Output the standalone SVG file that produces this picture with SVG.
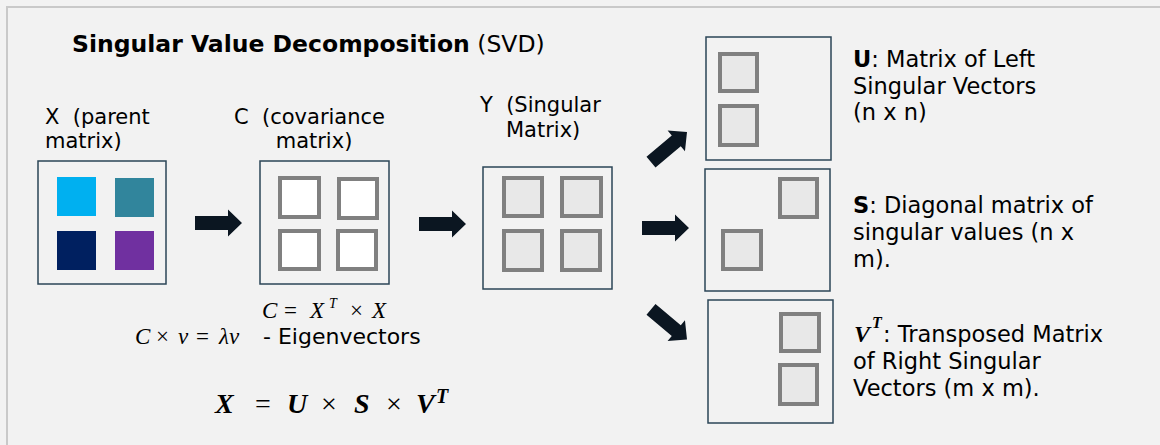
<svg xmlns="http://www.w3.org/2000/svg" width="1160" height="445" viewBox="0 0 1160 445">
<style>
  .lbl{font-family:"DejaVu Sans",sans-serif;font-size:21px;fill:#000}
  .rt{font-family:"DejaVu Sans",sans-serif;font-size:22.5px;fill:#000}
  .ttl{font-family:"DejaVu Sans",sans-serif;font-size:23.5px;fill:#000}
  .math{font-family:"Liberation Serif",serif;font-style:italic;fill:#000}
  .up{font-style:normal;font-weight:normal}
  .sans{font-family:"DejaVu Sans",sans-serif;font-style:normal;font-weight:normal}
  .box{fill:none;stroke:#2b4557;stroke-width:1.5}
  .cell{fill:#e8e8e8;stroke:#808080;stroke-width:4}
  .cellw{fill:#ffffff;stroke:#808080;stroke-width:4}
  .arrow{fill:#0b1621}
</style>
<defs>
  <polygon id="blk" points="-23.5,-7 9.5,-7 9.5,-13.5 23.5,0 9.5,13.5 9.5,7 -23.5,7"/>
</defs>
<rect x="0" y="0" width="1160" height="445" fill="#f2f2f2"/>
<rect x="7" y="7" width="1170" height="460" fill="none" stroke="#c9c9c9" stroke-width="2"/>

<g id="title">
  <text class="ttl" x="72" y="52"><tspan font-weight="bold">Singular Value Decomposition</tspan> (SVD)</text>
</g>

<g id="node-X">
  <text class="lbl" x="45" y="124" xml:space="preserve">X  (parent</text>
  <text class="lbl" x="45" y="148">matrix)</text>
  <rect class="box" x="38" y="161" width="128" height="123"/>
  <rect x="57" y="177" width="39" height="39" fill="#00b0f0"/>
  <rect x="115" y="178" width="39" height="39" fill="#31859c"/>
  <rect x="57" y="231" width="39" height="39" fill="#002060"/>
  <rect x="115" y="231" width="39" height="39" fill="#7030a0"/>
</g>

<g id="node-C">
  <text class="lbl" x="234" y="124" xml:space="preserve">C  (covariance</text>
  <text class="lbl" x="314" y="148" text-anchor="middle">matrix)</text>
  <rect class="box" x="260" y="161" width="129" height="123"/>
  <rect class="cellw" x="280" y="178" width="39" height="39"/>
  <rect class="cellw" x="339" y="179" width="38" height="39"/>
  <rect class="cellw" x="280" y="231" width="39" height="38"/>
  <rect class="cellw" x="338" y="231" width="38" height="38"/>
</g>

<g id="formulas">
  <text class="math" font-size="23" y="318"><tspan x="262">C</tspan><tspan class="up" x="284">=</tspan><tspan x="310">X</tspan><tspan x="329" y="308" font-size="14">T</tspan><tspan class="up" x="350" y="318">×</tspan><tspan x="372">X</tspan></text>
  <text class="math" font-size="23" y="344"><tspan x="135">C</tspan><tspan class="up" x="156">×</tspan><tspan x="178">v</tspan><tspan class="up" x="196">=</tspan><tspan x="219">λ</tspan><tspan x="229">v</tspan><tspan class="sans" x="263" font-size="22">- Eigenvectors</tspan></text>
  <text class="math" font-size="28" font-weight="bold" y="413"><tspan x="215">X</tspan><tspan class="up" x="255">=</tspan><tspan x="287">U</tspan><tspan class="up" x="321">×</tspan><tspan x="354">S</tspan><tspan class="up" x="386">×</tspan><tspan x="416">V</tspan><tspan x="436" y="403" font-size="20">T</tspan></text>
</g>

<g id="node-Y">
  <text class="lbl" x="480" y="112" xml:space="preserve">Y  (Singular</text>
  <text class="lbl" x="506" y="137">Matrix)</text>
  <rect class="box" x="483" y="167" width="129" height="122"/>
  <rect class="cell" x="504" y="178" width="38" height="38"/>
  <rect class="cell" x="562" y="178" width="39" height="38"/>
  <rect class="cell" x="504" y="231" width="38" height="39"/>
  <rect class="cell" x="562" y="231" width="38" height="39"/>
</g>

<g id="node-U">
  <rect class="box" x="706" y="37" width="125" height="123"/>
  <rect class="cell" x="720" y="54" width="37" height="37"/>
  <rect class="cell" x="720" y="106" width="37" height="39"/>
  <text class="rt" x="853" y="67"><tspan font-weight="bold">U</tspan>: Matrix of Left</text>
  <text class="rt" x="853" y="93.5">Singular Vectors</text>
  <text class="rt" x="853" y="120">(n x n)</text>
</g>

<g id="node-S">
  <rect class="box" x="705" y="169" width="125" height="122"/>
  <rect class="cell" x="780" y="179" width="37" height="38"/>
  <rect class="cell" x="723" y="231" width="38" height="38"/>
  <text class="rt" x="853" y="213"><tspan font-weight="bold">S</tspan>: Diagonal matrix of</text>
  <text class="rt" x="853" y="240">singular values (n x</text>
  <text class="rt" x="853" y="266.5">m).</text>
</g>

<g id="node-V">
  <rect class="box" x="708" y="300" width="125" height="123"/>
  <rect class="cell" x="781" y="314" width="38" height="37"/>
  <rect class="cell" x="780" y="365" width="37" height="39"/>
  <text class="math" font-weight="bold" font-size="24" y="342"><tspan x="854">V</tspan><tspan x="872" y="328" font-size="16">T</tspan><tspan class="sans" x="883" y="342" font-size="22.5">: Transposed Matrix</tspan></text>
  <text class="rt" x="853" y="368.5">of Right Singular</text>
  <text class="rt" x="853" y="395.5">Vectors (m x m).</text>
</g>

<g id="connectors" class="arrow">
  <use href="#blk" transform="translate(218.5,223)"/>
  <use href="#blk" transform="translate(442.5,224)"/>
  <use href="#blk" transform="translate(669,147) rotate(-40)"/>
  <use href="#blk" transform="translate(665.5,228)"/>
  <use href="#blk" transform="translate(669,324.5) rotate(40)"/>
</g>
</svg>
